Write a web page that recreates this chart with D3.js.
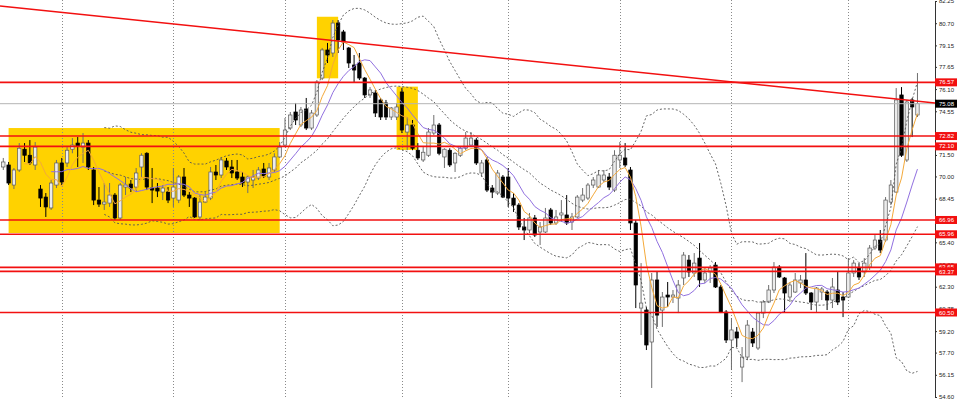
<!DOCTYPE html>
<html>
<head>
<meta charset="utf-8">
<script src="https://cdn.jsdelivr.net/npm/d3@7"></script>
<style>
html, body { margin: 0; padding: 0; background: #fff; overflow: hidden; }
svg { display: block; }
</style>
</head>
<body>
<svg id="chart" width="960" height="399"></svg>
<script>
// daily bars, oldest first (10 per line)
var open = [
70.66,70.80,69.40,70.45,71.90,71.48,70.80,69.12,68.56,67.80,
69.40,70.94,70.94,71.90,72.33,72.05,72.33,70.45,68.35,68.07,
68.14,68.70,67.10,69.26,69.47,69.26,70.66,71.62,69.19,69.19,
68.91,68.91,68.49,68.35,69.96,68.70,68.49,67.17,68.21,68.49,
70.31,70.10,71.08,70.66,70.31,69.96,69.61,69.75,69.89,70.52,
69.96,70.45,71.36,72.19,73.38,74.50,73.59,74.71,73.38,74.29,
76.87,78.83,78.62,80.71,80.09,78.97,77.78,77.92,76.87,75.69,
75.83,75.34,75.13,74.15,74.15,75.90,73.10,73.59,71.83,71.15,
71.48,73.03,73.59,71.36,71.83,70.94,71.48,71.97,72.19,72.54,
70.24,71.15,69.19,68.84,69.96,69.96,68.49,68.00,66.47,66.26,
67.10,66.12,66.12,67.66,66.75,67.31,67.31,66.82,67.17,68.35,
68.49,69.40,69.26,69.75,69.96,69.05,71.15,71.29,70.45,66.75,
60.81,60.67,58.44,62.77,60.67,61.72,61.58,61.51,62.91,64.16,
63.26,64.30,62.77,63.33,63.81,62.28,60.53,58.58,59.14,56.69,
57.39,59.14,58.02,60.46,61.23,62.07,63.67,62.91,61.58,61.93,
62.56,62.77,61.86,61.23,61.93,61.93,61.37,62.07,61.58,61.58,
63.26,63.61,63.33,63.67,65.00,65.56,65.56,68.21,68.91,75.69,
71.15,75.34,74.29
]
var high = [
71.29,71.01,70.59,72.33,72.33,72.54,72.40,69.40,68.84,69.75,
71.15,71.29,72.05,72.68,72.75,73.03,72.54,70.66,69.26,69.54,
69.54,68.84,69.54,69.96,69.75,70.59,71.62,71.69,70.59,69.54,
69.40,69.26,70.59,70.10,70.59,68.91,68.56,68.70,68.91,70.66,
70.80,71.36,71.29,71.15,71.15,70.31,70.10,70.45,70.66,70.94,
70.94,71.62,72.40,74.08,74.50,75.13,74.85,75.48,74.64,76.73,
78.97,79.32,80.92,80.92,80.23,79.04,78.48,78.62,76.94,76.24,
76.04,75.48,75.34,74.85,75.13,76.17,74.15,73.94,72.33,72.05,
73.38,74.29,73.73,71.97,71.97,71.69,72.05,73.10,73.10,72.68,
71.15,71.36,69.40,70.45,70.10,70.59,68.84,68.14,67.10,67.45,
67.31,66.82,67.80,67.80,67.66,68.35,68.70,67.45,68.70,69.19,
69.54,69.96,70.45,70.45,70.24,71.83,72.40,72.33,70.66,66.96,
63.95,60.88,63.26,63.33,61.93,62.63,62.07,62.77,64.72,64.51,
64.65,65.35,63.61,63.81,64.02,62.42,60.67,60.11,59.49,58.09,
59.97,59.42,60.53,61.37,62.42,64.02,63.81,62.98,62.63,63.26,
63.12,64.65,61.93,62.28,62.28,62.07,62.91,63.33,61.93,64.30,
64.16,63.95,64.30,65.21,65.91,66.26,68.56,69.75,76.17,76.24,
75.34,75.48,77.22
]
var low = [
70.45,69.40,69.12,70.31,71.01,70.80,70.45,67.87,67.17,67.66,
69.19,69.40,70.66,71.62,70.66,70.94,70.45,68.00,67.87,67.66,
67.87,66.96,66.96,68.70,68.91,68.91,69.96,69.05,68.14,68.56,
68.35,68.14,67.87,68.14,68.56,67.87,67.10,66.96,68.14,68.35,
69.75,69.89,70.45,69.89,69.75,69.26,68.84,69.19,69.75,69.89,
69.75,70.31,71.29,72.05,73.24,73.59,73.45,73.24,73.24,74.15,
76.73,77.92,78.34,78.62,78.83,77.57,76.59,76.73,75.48,75.48,
74.15,73.94,73.94,73.94,73.94,73.03,71.83,71.83,71.15,71.01,
71.36,72.89,71.48,70.59,70.66,70.31,71.36,71.83,72.05,70.80,
69.96,68.91,68.49,68.70,68.49,67.87,67.52,66.26,65.56,66.05,
65.77,65.21,66.05,66.61,66.61,66.82,66.61,66.26,67.10,68.21,
68.35,69.19,69.19,69.61,69.05,68.91,70.59,70.66,66.26,60.81,
58.93,57.88,55.23,59.49,59.49,60.88,61.16,60.46,62.42,62.98,
62.98,62.28,62.56,62.56,62.21,60.46,58.37,56.48,58.09,55.64,
57.18,58.09,57.88,60.11,61.16,61.86,62.91,60.53,61.23,61.86,
62.21,61.72,60.67,60.53,61.37,60.67,60.81,61.02,60.18,61.51,
62.98,62.77,62.98,63.47,64.86,64.65,65.42,68.00,68.84,71.36,
71.01,72.75,74.15
]
var close = [
71.01,69.54,70.45,71.97,71.48,70.94,72.05,68.49,67.87,69.54,
70.94,69.61,71.83,72.19,72.12,72.33,70.66,68.35,68.07,68.21,
68.70,67.10,69.40,69.40,69.19,70.24,71.48,69.26,69.05,68.98,
69.19,68.35,69.26,69.96,68.70,68.49,67.17,68.21,68.56,70.31,
70.10,71.15,70.66,70.24,69.89,69.54,69.96,69.96,70.45,70.03,
70.59,71.36,72.05,73.24,74.29,73.94,74.64,73.38,74.43,76.59,
78.83,78.48,80.71,79.53,79.39,77.92,77.43,76.87,75.69,76.04,
74.43,74.15,74.15,74.78,74.85,73.24,73.59,71.97,71.29,71.69,
73.10,73.59,71.62,71.90,70.80,71.62,71.97,72.68,72.68,70.94,
70.94,69.05,68.91,70.24,68.56,68.49,68.00,66.47,66.26,67.10,
65.91,66.47,67.10,66.75,67.17,67.45,66.75,67.17,68.56,68.70,
69.40,69.75,70.10,70.10,69.26,71.48,71.48,70.80,66.75,62.42,
61.16,58.23,62.77,60.32,61.58,61.58,61.72,62.42,64.51,63.33,
63.95,62.77,63.26,63.61,62.28,60.53,58.58,59.28,58.72,57.39,
59.62,58.37,60.46,61.23,62.07,63.67,62.98,61.86,62.42,62.77,
62.77,61.86,61.23,62.21,62.14,61.37,62.28,61.23,61.37,63.26,
63.95,62.98,63.95,65.00,65.56,64.86,68.35,69.40,75.34,71.48,
75.20,74.85,75.08
]

// right price scale labels
var priceTicks = [82.25, 80.70, 79.15, 77.65, 76.10, 74.55, 73.00, 71.50, 70.00, 68.45,
                  66.90, 65.40, 63.85, 62.30, 60.75, 59.20, 57.70, 56.15, 54.60]

// horizontal support / resistance levels
var levels = [76.57, 72.82, 72.10, 66.96, 65.96, 63.65, 63.37, 60.50]

// bars where the vertical (month) separators sit
var gridBars = [11, 32, 53, 75, 95, 116, 137, 159]

// highlighted zones: bar from/to, price top/bottom
var zones = [
  {from: 1, to: 52, top: 73.38, bottom: 66.05},
  {from: 59, to: 63, top: 81.15, bottom: 76.85},
  {from: 74, to: 78, top: 76.27, bottom: 71.85}
]

// falling trend line (bar index, price)
var trend = [{bar: -0.62, price: 81.90}, {bar: 175.3, price: 75.13}]

var svg = d3.select('#chart')
var W = 960, H = 399, axisX = 935

var x = d3.scaleLinear().domain([-0.62, 175.3]).range([0, axisX])
var y = d3.scaleLinear().domain([54.60, 82.25]).range([397, 1])

svg.append('rect').attr('width', W).attr('height', H).attr('fill', '#fff')

svg.append('clipPath').attr('id', 'plot')
  .append('rect').attr('width', axisX).attr('height', H)

var plot = svg.append('g').attr('clip-path', 'url(#plot)')

// zones
plot.selectAll('rect.zone').data(zones).enter().append('rect')
  .attr('class', 'zone')
  .attr('x', d => x(d.from))
  .attr('width', d => x(d.to) - x(d.from))
  .attr('y', d => y(d.top))
  .attr('height', d => y(d.bottom) - y(d.top))
  .attr('fill', '#ffd200')

// month separators
plot.selectAll('line.grid').data(gridBars).enter().append('line')
  .attr('x1', d => Math.round(x(d)) + 0.5).attr('x2', d => Math.round(x(d)) + 0.5)
  .attr('y1', 0).attr('y2', H)
  .attr('stroke', '#8a8a8a').attr('stroke-width', 1)
  .attr('stroke-dasharray', '1,2')

// indicators from closes
function sma(arr, n) {
  return arr.map((v, i) => i < n - 1 ? null : d3.mean(arr.slice(i - n + 1, i + 1)))
}
var ma5 = sma(close, 5)
var ma10 = sma(close, 10)
var mid = sma(close, 20)
var upper = [], lower = []
close.forEach((v, i) => {
  if (mid[i] == null) { upper.push(null); lower.push(null); return }
  var win = close.slice(i - 19, i + 1)
  var sd = Math.sqrt(d3.mean(win, c => (c - mid[i]) * (c - mid[i])))
  upper.push(mid[i] + 2 * sd)
  lower.push(mid[i] - 2 * sd)
})

var line = d3.line()
  .defined(d => d != null)
  .x((d, i) => x(i))
  .y(d => y(d))

// candles
var bars = close.map((c, i) => ({i: i, o: open[i], h: high[i], l: low[i], c: c}))
var cg = plot.append('g')
cg.selectAll('line.wick').data(bars).enter().append('line')
  .attr('x1', d => x(d.i)).attr('x2', d => x(d.i))
  .attr('y1', d => y(d.h)).attr('y2', d => y(d.l))
  .attr('stroke', d => d.c >= d.o ? '#6e6e6e' : '#000')
  .attr('stroke-width', 1)
cg.selectAll('rect.body').data(bars).enter().append('rect')
  .attr('x', d => x(d.i) - 1.7)
  .attr('width', 3.4)
  .attr('y', d => y(Math.max(d.o, d.c)))
  .attr('height', d => Math.max(1, Math.abs(y(d.o) - y(d.c))))
  .attr('fill', d => d.c >= d.o ? '#ececec' : '#000')
  .attr('stroke', d => d.c >= d.o ? '#5a5a5a' : '#000')
  .attr('stroke-width', 0.7)

// bollinger bands
;[upper, mid, lower].forEach(s => {
  plot.append('path').attr('d', line(s))
    .attr('fill', 'none').attr('stroke', '#555').attr('stroke-width', 0.9)
    .attr('stroke-dasharray', '2,2')
})
plot.append('path').attr('d', line(ma10))
  .attr('fill', 'none').attr('stroke', '#9170e0').attr('stroke-width', 1)
plot.append('path').attr('d', line(ma5))
  .attr('fill', 'none').attr('stroke', '#f4a93a').attr('stroke-width', 1)

// current price line
var last = close[close.length - 1]
plot.append('line')
  .attr('x1', 0).attr('x2', axisX)
  .attr('y1', y(last)).attr('y2', y(last))
  .attr('stroke', '#b4b4b4').attr('stroke-width', 1)

// levels
plot.selectAll('line.level').data(levels).enter().append('line')
  .attr('x1', 0).attr('x2', axisX)
  .attr('y1', d => y(d)).attr('y2', d => y(d))
  .attr('stroke', '#f21010').attr('stroke-width', 1.6)

// trend line
plot.append('line')
  .attr('x1', x(trend[0].bar)).attr('y1', y(trend[0].price))
  .attr('x2', x(trend[1].bar)).attr('y2', y(trend[1].price))
  .attr('stroke', '#f21010').attr('stroke-width', 1.5)

// price axis
var axis = d3.axisRight(y)
  .tickValues(priceTicks)
  .tickFormat(d3.format('.2f'))
  .tickSize(2)
  .tickSizeOuter(0)
  .tickPadding(2)
var ag = svg.append('g').attr('transform', 'translate(' + axisX + ',0)').call(axis)
ag.select('.domain').attr('stroke', '#333')
ag.selectAll('.tick line').attr('stroke', '#333')
ag.selectAll('.tick text')
  .attr('fill', '#222')
  .style('font-family', '"Liberation Sans", Arial, sans-serif')
  .style('font-size', '6px')

// price labels on the axis
function tag(v, color) {
  var g = svg.append('g').attr('transform', 'translate(' + axisX + ',' + y(v) + ')')
  g.append('rect').attr('x', 0).attr('y', -4).attr('width', 22).attr('height', 8).attr('fill', color)
  g.append('text').attr('x', 4).attr('y', 0).attr('dy', '0.35em')
    .attr('fill', '#fff')
    .style('font-family', '"Liberation Sans", Arial, sans-serif')
    .style('font-size', '6px')
    .text(d3.format('.2f')(v))
}
levels.forEach(v => tag(v, '#f21010'))
tag(last, '#000')
</script>
</body>
</html>
